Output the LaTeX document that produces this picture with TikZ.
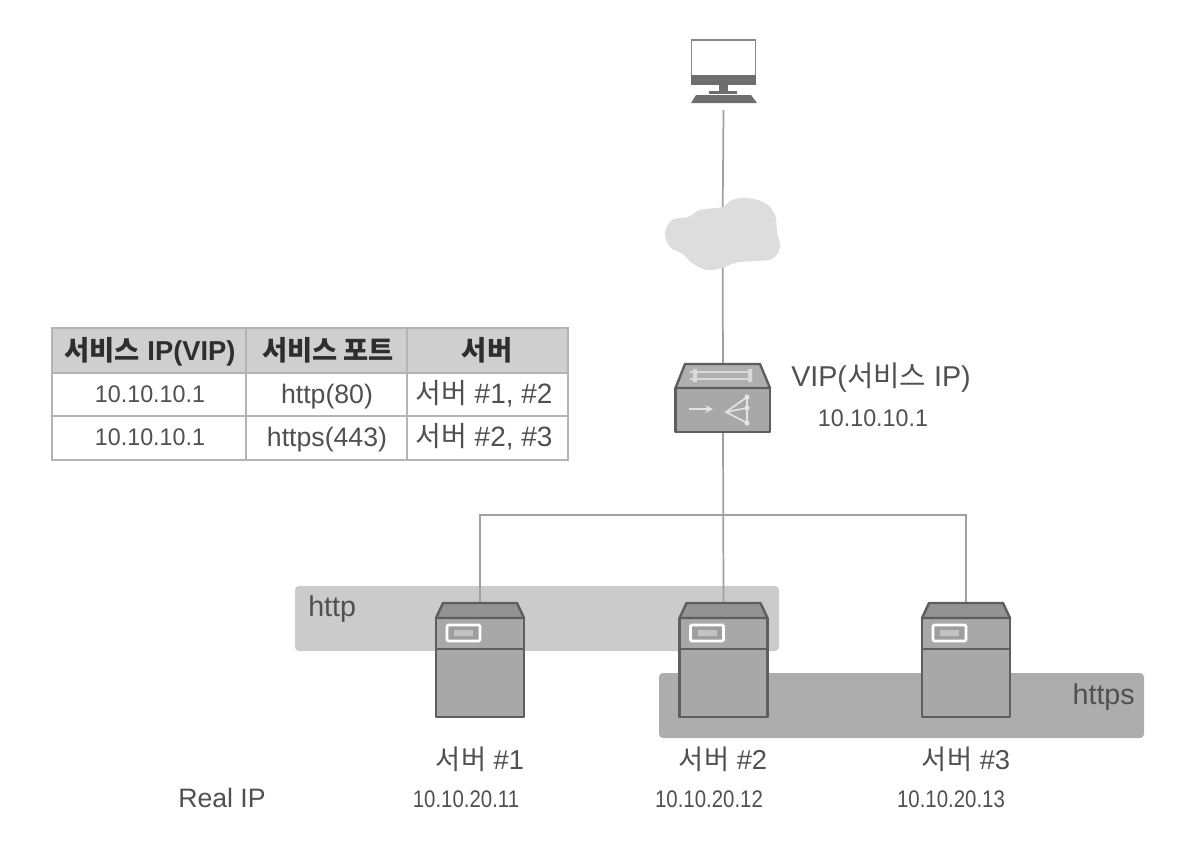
\documentclass[tikz,border=0pt]{standalone}
\usepackage{fontspec}
\setmainfont{Liberation Sans}
\newfontfamily\kr{Noto Sans CJK KR}
\definecolor{ink}{HTML}{505050}
\definecolor{wire}{HTML}{A0A0A0}
\definecolor{rule}{HTML}{B4B4B4}
\definecolor{headfill}{HTML}{CFCFCF}
\definecolor{httpfill}{HTML}{CBCBCB}
\definecolor{httpsfill}{HTML}{ADADAD}
\definecolor{srvfill}{HTML}{A8A8A8}
\definecolor{srvtop}{HTML}{939393}
\definecolor{srvedge}{HTML}{5E5E5E}
\definecolor{cloudfill}{HTML}{DDDDDD}
\newcommand{\ipsize}{\fontsize{18pt}{22pt}\selectfont}
\newcommand{\ipwide}[1]{\scalebox{.97}[1]{#1}}
\newcommand{\ipnarrow}[1]{\scalebox{.85}[1]{#1}}
\tikzset{
  anchorbox/.style={inner sep=0pt,outer sep=0pt,minimum width=#1*0.75pt},
  wireline/.style={draw=wire,line width=1.3pt},
  label/.style={inner sep=0pt,text=ink,anchor=base,font=\fontsize{20.5pt}{24pt}\selectfont},
  cell/.style={inner sep=0pt,text=ink,anchor=base,font=\fontsize{20pt}{24pt}\selectfont},
  korcell/.style={cell,font=\fontsize{21pt}{24pt}\selectfont},
  bandlabel/.style={label,font=\fontsize{21.5pt}{24pt}\selectfont},
  headcell/.style={inner sep=0pt,text=black!82,anchor=base,font=\fontsize{20.5pt}{24pt}\selectfont\bfseries},
  srvline/.style={draw=srvedge,line width=1.8pt,line join=round},
}
\newcommand{\srvicon}[1]{%
  \begin{scope}[xshift=#1*0.75pt]
    \filldraw[srvline,fill=srvfill] (-44,618) rectangle (44,717);
    \filldraw[srvline,fill=srvtop] (-44,618) -- (-37,603) -- (37,603) -- (44,618) -- cycle;
    \draw[srvline] (-44,649) -- (44,649);
    \filldraw[draw=white,line width=2pt,fill=srvtop!90!white,rounded corners=1pt] (-33,625) rectangle (0,641);
    \fill[srvfill!70!white] (-26,630) rectangle (-7,636);
  \end{scope}}
\begin{document}
\begin{tikzpicture}[x=0.75pt,y=-0.75pt]
\useasboundingbox (0,0) rectangle (1194,850);
% device anchors
\node[anchorbox=65,minimum height=71*0.75pt] (pc) at (723.5,74.5) {};
\node[anchorbox=115,minimum height=74*0.75pt] (cloud) at (722.5,235) {};
\node[anchorbox=95,minimum height=68*0.75pt] (lb) at (723,398) {};
\node[anchorbox=88,minimum height=114*0.75pt] (s1) at (480,660) {};
\node[anchorbox=88,minimum height=114*0.75pt] (s2) at (723.5,660) {};
\node[anchorbox=88,minimum height=114*0.75pt] (s3) at (966,660) {};
\coordinate (bus) at (723.5,515);
% service bands
\fill[httpfill,rounded corners=3pt] (295,586) rectangle (779,651);
\fill[httpsfill,rounded corners=3pt] (659,673) rectangle (1144,738);
\node[bandlabel,anchor=base west] (httplabel) at (308,616) {http};
\node[bandlabel,anchor=base east] (httpslabel) at (1135,704) {https};
% connectors
\draw[wireline] (pc.south) -- (cloud.center);
\draw[wireline] (cloud.center) -- (lb.north);
\draw[wireline] (lb.south) -- (s2.north);
\draw[wireline] (s1.north) |- (bus) -| (s3.north);
% PC
\draw[draw=wire!85!black,line width=1.3pt,fill=white] (691.5,40) rectangle (755.5,80);
\fill[srvedge!90] (691,75) rectangle (756,85);
\fill[srvedge!90] (719,85) rectangle (728,92);
\fill[srvedge!90] (709,91) rectangle (737,93.5);
\fill[srvedge!90] (696,95) -- (751,95) -- (757,103) -- (691,103) -- cycle;
% cloud
\fill[cloudfill] plot[smooth cycle,tension=.6] coordinates {(665,233) (672,220) (688,217) (700,210) (722,207) (732,200) (747,198) (765,203) (775,215) (777,232) (780,247) (772,259) (752,261) (735,263) (722,268) (707,270) (692,263) (683,254) (670,247)};
% load balancer
\filldraw[srvline,fill=srvfill] (675.5,388) rectangle (770,432);
\filldraw[srvline,fill=srvfill!92!white] (675.5,388) -- (685,364) -- (760,364) -- (770,388) -- cycle;
\draw[white!85!black,line width=1.2pt] (690,372) -- (752,372) (690,379) -- (752,379);
\fill[white!85!black] (693,369) rectangle (697,382) (748,369) rectangle (752,382);
\draw[white!90!black,line width=1.6pt,-stealth] (689,409) -- (713,409);
\draw[white!90!black,line width=1.2pt] (747,397) -- (726,412) -- (747,423) -- cycle (726,412) -- (747,408);
\fill[white!90!black] (747,397) circle (2.5) (747,408) circle (2.5) (747,423) circle (2.5);
% servers
\srvicon{480}
\srvicon{723.5}
\srvicon{966}
% device labels
\node[label,font=\fontsize{21.5pt}{24pt}\selectfont] (vip) at (881,386) {VIP({\kr 서비스} IP)};
\node[label,font=\ipsize] (vipip) at (873,426) {\ipwide{10.10.10.1}};
\node[label] (n1) at (480,769) {{\kr 서버} \#1};
\node[label] (n2) at (723,769) {{\kr 서버} \#2};
\node[label] (n3) at (966,769) {{\kr 서버} \#3};
\node[label,font=\fontsize{20pt}{24pt}\selectfont] (realip) at (222,807) {Real IP};
\node[label,font=\ipsize] (ip1) at (466,807) {\ipnarrow{10.10.20.11}};
\node[label,font=\ipsize] (ip2) at (709,807) {\ipnarrow{10.10.20.12}};
\node[label,font=\ipsize] (ip3) at (951,807) {\ipnarrow{10.10.20.13}};
% table
\fill[headfill] (52,328) rectangle (568,373);
\draw[rule,line width=1.2pt] (52,328) rectangle (568,460);
\draw[rule,line width=1.2pt] (52,373) -- (568,373) (52,416) -- (568,416) (246,328) -- (246,460) (407,328) -- (407,460);
\node[headcell] (h1) at (150,360) {{\kr 서비스} IP(VIP)};
\node[headcell] (h2) at (328,360) {{\kr 서비스 포트}};
\node[headcell] (h3) at (487,360) {{\kr 서버}};
\node[cell,font=\ipsize] (a1) at (150,402) {\ipwide{10.10.10.1}};
\node[cell] (a2) at (327,403) {http(80)};
\node[korcell] (a3) at (484,403) {{\kr 서버} \#1, \#2};
\node[cell,font=\ipsize] (b1) at (150,445) {\ipwide{10.10.10.1}};
\node[cell] (b2) at (327,446) {https(443)};
\node[korcell] (b3) at (484,446) {{\kr 서버} \#2, \#3};
\end{tikzpicture}
\end{document}
